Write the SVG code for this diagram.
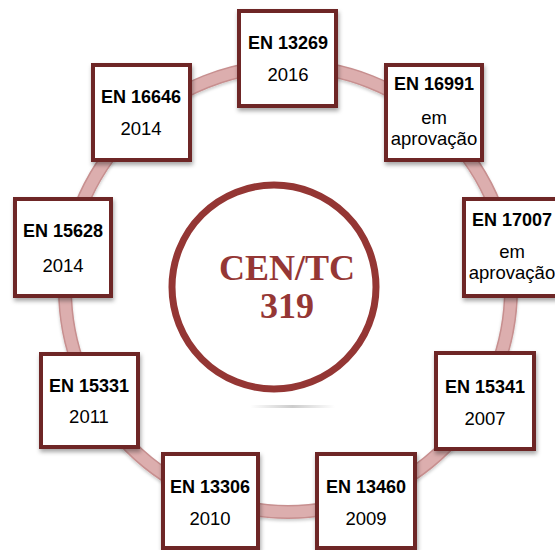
<svg xmlns="http://www.w3.org/2000/svg" width="555" height="550" viewBox="0 0 555 550">
<defs>
<filter id="sh" x="-20%" y="-20%" width="140%" height="140%">
<feDropShadow dx="1" dy="3" stdDeviation="2" flood-color="#000" flood-opacity="0.35"/>
</filter>
<filter id="rsh" x="-10%" y="-10%" width="120%" height="120%">
<feDropShadow dx="0" dy="2" stdDeviation="1.5" flood-color="#000" flood-opacity="0.2"/>
</filter>
<linearGradient id="refl" x1="0" y1="0" x2="1" y2="0">
<stop offset="0" stop-color="#999" stop-opacity="0"/>
<stop offset="0.5" stop-color="#999" stop-opacity="0.5"/>
<stop offset="1" stop-color="#999" stop-opacity="0"/>
</linearGradient>
</defs>
<style>
.box{fill:#fff;stroke:#6e2626;stroke-width:4;filter:url(#sh)}
.t{font-family:"Liberation Sans",Arial,sans-serif;font-size:18.5px;fill:#000;text-anchor:middle}
.b{font-weight:bold;font-size:18px}
.c{font-family:"Liberation Serif","Times New Roman",serif;font-weight:bold;font-size:36px;fill:#953735;text-anchor:middle}
</style>
<rect width="555" height="550" fill="#fff"/>
<g id="connectors">
<circle cx="288" cy="289" r="223" fill="none" stroke="#c78f8f" stroke-width="14" filter="url(#rsh)"/>
<circle cx="288" cy="289" r="223" fill="none" stroke="#dcaeae" stroke-width="11"/>
</g>
<g id="center">
<circle cx="274" cy="287" r="102" fill="#fff" stroke="#943634" stroke-width="7"/>
<rect x="250" y="405" width="85" height="3" fill="url(#refl)"/>
<text class="c" x="287" y="280">CEN/TC</text>
<text class="c" x="287" y="318">319</text>
</g>
<g id="n13269">
<rect class="box" x="239" y="11" width="97" height="95"/>
<text class="t b" x="288" y="49">EN 13269</text>
<text class="t" x="288" y="81">2016</text>
</g>
<g id="n16991">
<rect class="box" x="386" y="65" width="96" height="95"/>
<text class="t b" x="434" y="90">EN 16991</text>
<text class="t" x="434" y="124">em</text>
<text class="t" x="434" y="145">aprovação</text>
</g>
<g id="n17007">
<rect class="box" x="464" y="199" width="96" height="97"/>
<text class="t b" x="512" y="226">EN 17007</text>
<text class="t" x="512" y="258">em</text>
<text class="t" x="512" y="279">aprovação</text>
</g>
<g id="n15341">
<rect class="box" x="436" y="353" width="98" height="96"/>
<text class="t b" x="485" y="393">EN 15341</text>
<text class="t" x="485" y="425">2007</text>
</g>
<g id="n13460">
<rect class="box" x="317" y="454" width="98" height="94"/>
<text class="t b" x="366" y="493">EN 13460</text>
<text class="t" x="366" y="525">2009</text>
</g>
<g id="n13306">
<rect class="box" x="163" y="454" width="95" height="94"/>
<text class="t b" x="210" y="493">EN 13306</text>
<text class="t" x="210" y="525">2010</text>
</g>
<g id="n15331">
<rect class="box" x="41" y="354" width="97" height="93"/>
<text class="t b" x="89" y="392">EN 15331</text>
<text class="t" x="89" y="423">2011</text>
</g>
<g id="n15628">
<rect class="box" x="15" y="199" width="96" height="97"/>
<text class="t b" x="63" y="237">EN 15628</text>
<text class="t" x="63" y="272">2014</text>
</g>
<g id="n16646">
<rect class="box" x="93" y="65" width="97" height="95"/>
<text class="t b" x="141" y="103">EN 16646</text>
<text class="t" x="141" y="135">2014</text>
</g>
</svg>
